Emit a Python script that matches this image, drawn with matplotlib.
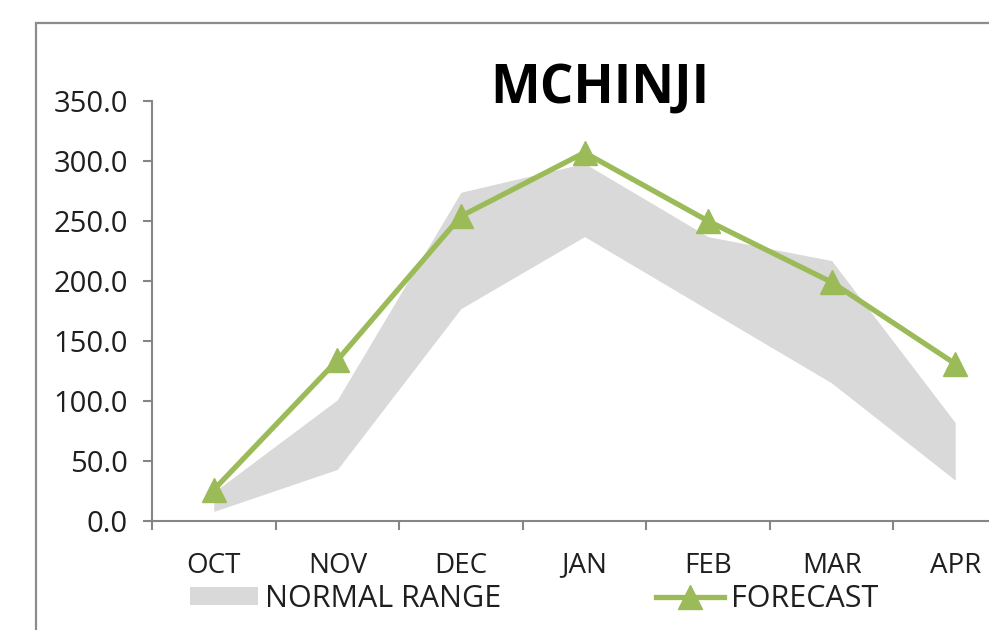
import matplotlib
matplotlib.use("Agg")
import matplotlib.pyplot as plt
from matplotlib.patches import Rectangle, Patch
from matplotlib.lines import Line2D
import numpy as np

months = ["OCT", "NOV", "DEC", "JAN", "FEB", "MAR", "APR"]
normal_low = [8, 43, 177, 237, 176, 115, 34]
normal_high = [24, 101, 274, 298, 237, 217, 82]
forecast = [26, 134, 254, 307, 250, 199, 131]
yticks = [0, 50, 100, 150, 200, 250, 300, 350]
title = "MCHINJI"

FONT = "Open Sans"
plt.rcParams["font.family"] = [FONT, "DejaVu Sans"]
GREEN = "#9BBB59"
GRAY = "#D9D9D9"
AXC = "#868686"
TXT = "#1f1f1f"

fig = plt.figure(figsize=(9.89, 6.30), dpi=100)
W, H = 989, 630
ax = fig.add_axes([152 / W, 109 / H, 865 / W, 420 / H])

x = np.arange(len(months))
ax.fill_between(x, normal_low, normal_high, color=GRAY, linewidth=0, zorder=1)
ax.plot(x, forecast, color=GREEN, lw=3.8, marker="^", markersize=17,
        markeredgecolor=GREEN, markerfacecolor=GREEN, zorder=3, clip_on=False)

ax.set_xlim(-0.5, len(months) - 0.5)
ax.set_ylim(0, 350)
ax.set_yticks(yticks)
ax.set_yticklabels([f"{v:.1f}" for v in yticks])
ax.set_xticks(np.arange(-0.5, len(months), 1.0))
ax.set_xticklabels([])
ax.set_xticks(x, minor=True)
ax.set_xticklabels(months, minor=True)

for s in ["top", "right"]:
    ax.spines[s].set_visible(False)
for s in ["left", "bottom"]:
    ax.spines[s].set_color(AXC)
    ax.spines[s].set_linewidth(1.5)

ax.tick_params(axis="y", direction="out", length=6.5, width=1.5, color=AXC,
               labelsize=21, labelcolor=TXT, pad=11)
ax.tick_params(axis="x", which="major", direction="out", length=6.5, width=1.5, color=AXC)
ax.tick_params(axis="x", which="minor", length=0, labelsize=20, labelcolor=TXT, pad=22)

fig.text(600 / W, 1 - 89 / H, title, ha="center", va="center",
         fontsize=38, fontweight="bold", color="black")

# outer chart frame (cropped on right/bottom)
fig.patches.append(Rectangle((36 / W, -0.1), 1.2, 1 - 23 / H + 0.1,
                             transform=fig.transFigure, fill=False,
                             edgecolor="#8c8c8c", linewidth=1.6, zorder=0))

handles = [Patch(facecolor=GRAY, edgecolor="none"),
           Line2D([0], [0], color=GREEN, lw=3.8, marker="^", markersize=17,
                  markerfacecolor=GREEN, markeredgecolor=GREEN)]
leg = fig.legend(handles, ["NORMAL RANGE", "FORECAST"], ncol=2,
                 loc="center left", bbox_to_anchor=(190 / W, 1 - 599 / H),
                 frameon=False, fontsize=22, handlelength=2.22, handleheight=0.55,
                 handletextpad=0.25, columnspacing=5.05, labelcolor=TXT,
                 borderpad=0, borderaxespad=0)

fig.savefig("out.png", dpi=100)
